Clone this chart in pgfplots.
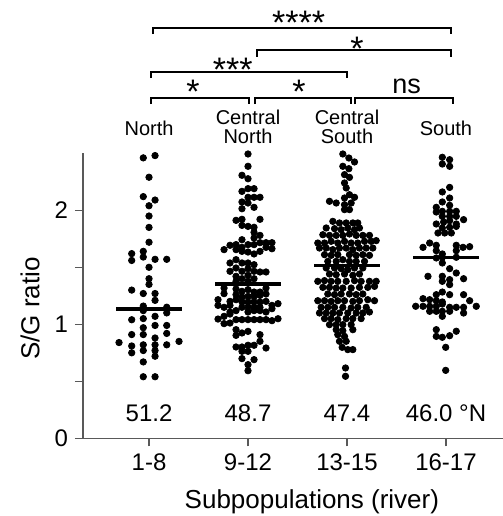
\documentclass[border=0pt]{standalone}
\usepackage{fontspec}
\setmainfont{Liberation Sans}
\usepackage{pgfplots}
\pgfplotsset{compat=1.18}

\begin{document}
\begin{tikzpicture}
\begin{axis}[
    width=210pt, height=142.5pt, scale only axis,
    xmin=0.333, xmax=4.576, ymin=0, ymax=2.5,
    axis x line=bottom, axis y line=left,
    axis line style={-, black!65, line width=0.6pt},
    xtick={1,2,3,4},
    xticklabels={1-8,9-12,13-15,16-17},
    ytick={0,1,2}, minor ytick={0.5,1.5},
    tick align=outside,
    major tick length=4pt, minor tick length=4pt,
    tick style={black!65, line width=0.6pt},
    /pgf/number format/assume math mode=true,
    tick label style={font=\fontsize{12}{14}\selectfont},
    xlabel={Subpopulations (river)},
    ylabel={S/G ratio},
    label style={font=\fontsize{13}{15}\selectfont},
    xlabel style={at={(axis description cs:0.545,-0.221)}, anchor=center},
    ylabel style={at={(axis description cs:-0.126,0.455)}, anchor=center},
    clip=false,
]
% North (1-8)
\addplot[only marks, mark=*, mark size=1.6pt, black] coordinates {
(0.942,2.46) (1.061,2.48) (1.000,2.29) (0.942,2.12) (1.061,2.09) (1.000,2.04)
(1.000,1.95) (1.000,1.85) (1.000,1.72) (0.825,1.62) (0.942,1.64) (0.825,1.56)
(0.942,1.59) (1.061,1.57) (1.179,1.57) (1.000,1.50) (1.000,1.40) (1.000,1.35)
(0.825,1.30) (0.942,1.27) (1.061,1.27) (1.061,1.21) (0.942,1.16) (0.942,1.12)
(1.179,1.15) (1.179,1.10) (1.061,1.07) (0.825,1.04) (0.942,1.05) (1.061,0.99)
(1.179,0.99) (0.942,0.97) (0.825,0.91) (0.942,0.91) (1.179,0.92) (1.061,0.88)
(0.697,0.84) (1.303,0.85) (1.179,0.82) (0.825,0.81) (0.942,0.82) (1.061,0.82)
(0.825,0.75) (0.942,0.77) (1.061,0.77) (1.061,0.72) (0.942,0.67) (0.942,0.54)
(1.061,0.54)
};
% Central North (9-12)
\addplot[only marks, mark=*, mark size=1.6pt, black] coordinates {
(2.000,2.494) (2.000,2.386) (1.939,2.307) (2.000,2.277) (1.939,2.166) (2.000,2.190)
(2.061,2.190) (2.000,2.114) (2.061,2.114) (2.121,2.114) (1.939,2.073) (2.000,2.064)
(1.939,2.014) (2.061,2.026) (1.879,1.912) (1.939,1.921) (2.121,1.921) (1.939,1.868)
(2.000,1.859) (2.061,1.851) (2.061,1.807) (2.061,1.757) (2.121,1.780) (1.939,1.742)
(1.818,1.693) (1.879,1.699) (1.939,1.675) (2.000,1.699) (2.061,1.699) (2.121,1.716)
(2.182,1.716) (2.242,1.716) (1.758,1.655) (1.879,1.655) (1.939,1.640) (2.000,1.634)
(2.061,1.617) (2.121,1.640) (2.182,1.675) (2.242,1.663) (1.818,1.538) (1.879,1.567)
(1.939,1.538) (2.000,1.538) (2.061,1.523) (1.818,1.465) (1.879,1.494) (1.939,1.465)
(2.000,1.488) (2.061,1.465) (2.121,1.459) (2.182,1.459) (1.879,1.421) (1.939,1.400)
(2.000,1.430) (2.061,1.400) (1.879,1.377) (2.000,1.377) (1.758,1.318) (1.879,1.310)
(1.939,1.289) (2.000,1.304) (2.061,1.283) (2.121,1.283) (2.182,1.318) (1.758,1.269)
(1.879,1.260) (1.939,1.239) (2.000,1.245) (2.061,1.245) (2.121,1.254) (2.182,1.266)
(1.697,1.216) (1.818,1.201) (1.879,1.216) (1.939,1.196) (2.000,1.196) (2.061,1.196)
(2.121,1.196) (2.182,1.201) (1.697,1.166) (1.758,1.149) (1.818,1.166) (1.939,1.149)
(2.000,1.149) (2.061,1.149) (2.121,1.149) (2.242,1.166) (2.303,1.181) (1.818,1.108)
(1.879,1.120) (2.000,1.108) (2.061,1.120) (2.121,1.120) (2.182,1.108) (2.242,1.137)
(1.758,1.070) (1.818,1.090) (1.697,1.046) (1.758,1.006) (1.818,1.011) (1.879,1.041)
(1.939,1.041) (2.000,1.041) (2.061,1.041) (2.121,1.041) (2.182,1.041) (2.242,1.032)
(2.303,1.049) (1.879,0.953) (1.879,0.903) (1.939,0.924) (2.000,0.938) (2.121,0.909)
(1.879,0.801) (1.939,0.801) (2.000,0.816) (2.061,0.816) (2.121,0.851) (2.182,0.792)
(1.939,0.763) (2.000,0.763) (1.939,0.699) (2.061,0.690) (2.000,0.646) (2.000,0.593)
};
% Central South (13-15)
\addplot[only marks, mark=*, mark size=1.6pt, black] coordinates {
(2.958,2.494) (3.019,2.459) (3.076,2.424) (2.958,2.386) (3.019,2.365) (2.975,2.313)
(3.025,2.289) (2.975,2.240) (2.992,2.196) (3.025,2.137) (3.076,2.114) (2.975,2.108)
(2.823,2.079) (2.891,2.064) (2.975,2.049) (3.042,2.064) (2.975,2.006) (3.025,2.006)
(2.857,1.903) (2.924,1.889) (2.992,1.889) (3.059,1.889) (3.109,1.889) (2.790,1.845)
(2.874,1.839) (2.941,1.830) (3.008,1.845) (3.076,1.830) (3.126,1.845) (2.756,1.786)
(2.823,1.780) (2.891,1.780) (2.958,1.780) (3.025,1.792) (3.093,1.780) (3.160,1.780)
(3.227,1.780) (2.705,1.713) (2.773,1.713) (2.840,1.728) (2.907,1.713) (2.975,1.728)
(3.042,1.713) (3.109,1.713) (3.177,1.728) (3.244,1.728) (3.295,1.734) (2.722,1.669)
(2.790,1.669) (2.857,1.655) (2.924,1.669) (2.992,1.669) (3.059,1.655) (3.126,1.669)
(3.194,1.669) (3.261,1.669) (2.773,1.611) (2.840,1.605) (2.907,1.611) (3.025,1.611)
(3.093,1.605) (3.160,1.611) (3.227,1.605) (2.806,1.552) (2.891,1.552) (2.958,1.567)
(3.025,1.552) (3.093,1.552) (3.177,1.552) (2.790,1.494) (2.874,1.494) (2.941,1.488)
(3.008,1.479) (3.076,1.494) (3.160,1.494) (2.823,1.441) (2.891,1.435) (2.975,1.441)
(3.059,1.430) (3.126,1.441) (2.705,1.377) (2.773,1.383) (2.840,1.377) (2.907,1.377)
(2.992,1.377) (3.076,1.383) (3.143,1.377) (3.227,1.377) (3.295,1.377) (2.756,1.324)
(2.823,1.324) (2.891,1.318) (2.958,1.318) (3.042,1.318) (3.126,1.324) (3.210,1.324)
(3.278,1.333) (2.806,1.266) (2.874,1.260) (2.941,1.266) (3.025,1.266) (3.093,1.260)
(3.160,1.266) (2.705,1.207) (2.773,1.207) (2.840,1.201) (2.907,1.207) (2.975,1.207)
(3.059,1.201) (3.126,1.207) (3.210,1.216) (3.278,1.207) (2.739,1.149) (2.806,1.149)
(2.874,1.149) (2.958,1.149) (3.042,1.143) (3.109,1.149) (3.194,1.149) (2.722,1.099)
(2.790,1.099) (2.857,1.099) (2.924,1.099) (3.008,1.099) (3.093,1.099) (3.160,1.099)
(3.227,1.108) (2.773,1.050) (2.840,1.050) (2.907,1.041) (2.992,1.050) (3.059,1.050)
(3.143,1.050) (2.823,0.997) (2.891,0.997) (2.958,0.997) (3.042,0.997) (2.891,0.953)
(2.958,0.944) (3.059,0.953) (2.907,0.909) (2.975,0.894) (2.924,0.851) (2.992,0.851)
(2.951,0.798) (3.008,0.778) (3.059,0.778) (2.985,0.617) (2.985,0.544)
};
% South (16-17)
\addplot[only marks, mark=*, mark size=1.6pt, black] coordinates {
(3.963,2.465) (4.037,2.444) (3.963,2.406) (4.037,2.386) (4.037,2.201) (3.963,2.161)
(4.037,2.108) (3.963,2.073) (3.902,2.026) (4.037,2.044) (3.902,1.985) (3.963,1.991)
(4.037,1.991) (4.104,1.991) (3.963,1.947) (4.037,1.947) (4.104,1.947) (3.902,1.880)
(3.976,1.897) (4.037,1.909) (4.104,1.880) (4.178,1.918) (3.963,1.845) (4.037,1.851)
(4.104,1.859) (3.919,1.801) (3.987,1.801) (4.054,1.801) (3.835,1.713) (3.768,1.675)
(3.902,1.693) (4.104,1.693) (4.172,1.675) (4.239,1.681) (3.902,1.646) (3.963,1.617)
(4.104,1.646) (3.902,1.582) (3.963,1.588) (3.963,1.538) (4.104,1.588) (4.037,1.488)
(4.104,1.450) (3.818,1.421) (3.963,1.421) (4.037,1.392) (4.178,1.400) (3.963,1.377)
(4.037,1.348) (3.963,1.283) (3.902,1.260) (4.037,1.260) (4.178,1.260) (3.768,1.225)
(3.835,1.216) (3.902,1.207) (3.963,1.196) (4.239,1.207) (3.694,1.158) (3.768,1.158)
(3.835,1.158) (3.902,1.158) (3.963,1.178) (4.037,1.149) (4.104,1.149) (4.178,1.149)
(4.306,1.158) (3.835,1.114) (3.902,1.114) (3.963,1.114) (4.037,1.114) (4.178,1.099)
(3.963,1.070) (3.902,0.953) (3.902,0.894) (3.963,0.886) (4.037,0.900) (4.104,0.939)
(3.997,0.798) (3.997,0.596)
};
% medians
\addplot[black, line width=1.6pt] coordinates {(0.667,1.134) (1.333,1.134)};
\addplot[black, line width=1.6pt] coordinates {(1.667,1.354) (2.333,1.354)};
\addplot[black, line width=1.6pt] coordinates {(2.667,1.518) (3.333,1.518)};
\addplot[black, line width=1.6pt] coordinates {(3.667,1.588) (4.333,1.588)};

% latitudes
\node[anchor=base, font=\fontsize{12}{14}\selectfont] at (axis cs:1,0.146) {51.2};
\node[anchor=base, font=\fontsize{12}{14}\selectfont] at (axis cs:2,0.146) {48.7};
\node[anchor=base, font=\fontsize{12}{14}\selectfont] at (axis cs:3,0.146) {47.4};
\node[anchor=base, font=\fontsize{12}{14}\selectfont] at (axis cs:4,0.146) {46.0 °N};

% region names
\node[anchor=base, inner sep=1pt, font=\fontsize{10}{12}\selectfont] at (axis cs:1,2.66) {North};
\node[anchor=base, inner sep=1pt, font=\fontsize{10}{12}\selectfont] at (axis cs:2,2.75) {Central};
\node[anchor=base, inner sep=1pt, font=\fontsize{10}{12}\selectfont] at (axis cs:2,2.585) {North};
\node[anchor=base, inner sep=1pt, font=\fontsize{10}{12}\selectfont] at (axis cs:3,2.75) {Central};
\node[anchor=base, inner sep=1pt, font=\fontsize{10}{12}\selectfont] at (axis cs:3,2.585) {South};
\node[anchor=base, inner sep=1pt, font=\fontsize{10}{12}\selectfont] at (axis cs:4,2.66) {South};

% significance brackets
\draw[line width=1pt] (axis cs:1.017,2.932) -- (axis cs:1.017,2.982) -- (axis cs:2.013,2.982) -- (axis cs:2.013,2.932);
\draw[line width=1pt] (axis cs:2.068,2.932) -- (axis cs:2.068,2.982) -- (axis cs:3.044,2.982) -- (axis cs:3.044,2.932);
\draw[line width=1pt] (axis cs:3.079,2.932) -- (axis cs:3.079,2.982) -- (axis cs:4.068,2.982) -- (axis cs:4.068,2.932);
\draw[line width=1pt] (axis cs:1.017,3.160) -- (axis cs:1.017,3.216) -- (axis cs:3.003,3.216) -- (axis cs:3.003,3.160);
\draw[line width=1pt] (axis cs:2.088,3.345) -- (axis cs:2.088,3.406) -- (axis cs:4.054,3.406) -- (axis cs:4.054,3.345);
\draw[line width=1pt] (axis cs:1.037,3.546) -- (axis cs:1.037,3.602) -- (axis cs:4.054,3.602) -- (axis cs:4.054,3.546);

\node[anchor=north, inner sep=0pt, font=\fontsize{17}{19}\selectfont] at (axis cs:1.444,3.143) {*};
\node[anchor=north, inner sep=0pt, font=\fontsize{17}{19}\selectfont] at (axis cs:2.515,3.143) {*};
\node[anchor=base, inner sep=0pt, font=\fontsize{13.5}{15}\selectfont] at (axis cs:3.603,3.026) {ns};
\node[anchor=north, inner sep=0pt, font=\fontsize{17}{19}\selectfont] at (axis cs:1.845,3.342) {***};
\node[anchor=north, inner sep=0pt, font=\fontsize{17}{19}\selectfont] at (axis cs:3.101,3.523) {*};
\node[anchor=north, inner sep=0pt, font=\fontsize{17}{19}\selectfont] at (axis cs:2.512,3.748) {****};

\coordinate (o) at (rel axis cs:0,0);
\end{axis}
\pgfresetboundingbox
\path[use as bounding box] (o) ++(-41.5pt,-38.85pt) rectangle ++(251.5pt,258pt);
\end{tikzpicture}
\end{document}
